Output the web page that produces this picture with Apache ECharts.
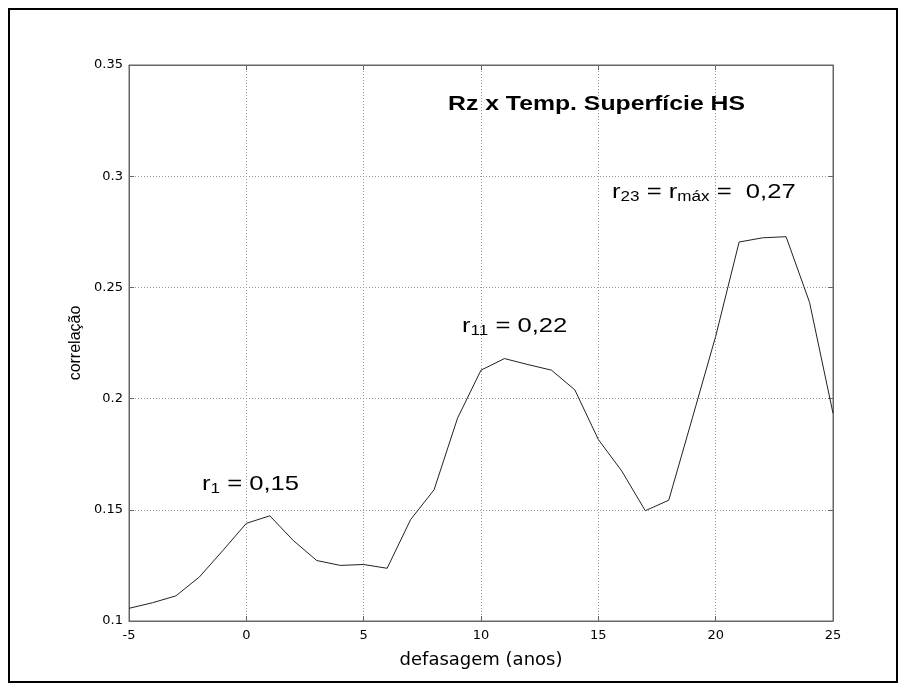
<!DOCTYPE html>
<html>
<head>
<meta charset="utf-8">
<script src="https://cdn.jsdelivr.net/npm/echarts@6/dist/echarts.min.js"></script>
<style>
  html, body { margin: 0; padding: 0; background: #fff; }
  #chart { width: 906px; height: 690px; }
</style>
</head>
<body>
<div id="chart"></div>
<script>
// lag (years) and correlation values
var lags = [-5, -4, -3, -2, -1, 0, 1, 2, 3, 4, 5, 6, 7, 8, 9, 10, 11, 12, 13, 14, 15, 16, 17, 18, 19, 20, 21, 22, 23, 24, 25]
var corr = [0.1057, 0.1082, 0.1113, 0.1198, 0.1317, 0.1439, 0.1473, 0.1362, 0.1272, 0.1250, 0.1254, 0.1237,
  0.1456, 0.1590, 0.1912, 0.2128, 0.2180, 0.2153, 0.2128, 0.2039, 0.1816, 0.1674, 0.1496, 0.1543,
  0.1910, 0.2280, 0.2704, 0.2723, 0.2728, 0.2433, 0.1934]

var font = 'Arial, "Liberation Sans", Helvetica, sans-serif'
var wide = '"DejaVu Sans", Arial, sans-serif'

var points = lags.map(function (x, i) { return [x, corr[i]] })

var rich = {
  n: { fontSize: 21, lineHeight: 24, fontFamily: font, color: '#000' },
  s: { fontSize: 14, lineHeight: 14, padding: [11, 0, 0, 0], fontFamily: font, color: '#000' }
}

// the original figure is stretched sideways, so the texts get scaleX
function note(x, y, text) {
  return {
    type: 'text', x: x, y: y, scaleX: 1.22, silent: true,
    style: { text: text, rich: rich, fill: '#000', align: 'left', verticalAlign: 'top' }
  }
}

var myChart = echarts.init(document.getElementById('chart'))

myChart.setOption({
  backgroundColor: '#fff',
  animation: false,
  grid: { left: 129, right: 73, top: 65, bottom: 69, show: true, borderColor: '#666', borderWidth: 1 },
  xAxis: [
    {
      type: 'value', min: -5, max: 25, interval: 5,
      name: 'defasagem (anos)', nameLocation: 'middle', nameGap: 30,
      nameTextStyle: { fontSize: 18, fontFamily: wide, color: '#000' },
      axisLine: { show: true, onZero: false, lineStyle: { color: '#666' } },
      axisTick: { show: true, inside: true, length: 5, lineStyle: { color: '#666' } },
      axisLabel: { fontSize: 13, fontFamily: wide, color: '#000', margin: 8 },
      splitLine: { show: true, lineStyle: { color: '#999', type: [1, 2], width: 1 } }
    },
    {
      type: 'value', position: 'top', min: -5, max: 25, interval: 5,
      axisLine: { show: true, onZero: false, lineStyle: { color: '#666' } },
      axisTick: { show: true, inside: true, length: 5, lineStyle: { color: '#666' } },
      axisLabel: { show: false }, splitLine: { show: false }
    }
  ],
  yAxis: [
    {
      type: 'value', min: 0.1, max: 0.35, interval: 0.05,
      name: 'correlação', nameLocation: 'middle', nameGap: 36,
      nameTextStyle: { fontSize: 16, fontFamily: font, color: '#000' },
      axisLine: { show: true, onZero: false, lineStyle: { color: '#666' } },
      axisTick: { show: true, inside: true, length: 5, lineStyle: { color: '#666' } },
      axisLabel: { fontSize: 13, fontFamily: wide, color: '#000', margin: 6 },
      splitLine: { show: true, lineStyle: { color: '#999', type: [1, 2], width: 1 } }
    },
    {
      type: 'value', position: 'right', min: 0.1, max: 0.35, interval: 0.05,
      axisLine: { show: true, onZero: false, lineStyle: { color: '#666' } },
      axisTick: { show: true, inside: true, length: 5, lineStyle: { color: '#666' } },
      axisLabel: { show: false }, splitLine: { show: false }
    }
  ],
  series: [
    {
      type: 'line',
      data: points,
      showSymbol: false,
      lineStyle: { color: '#222', width: 1 }
    }
  ],
  graphic: [
    {
      type: 'rect', silent: true,
      shape: { x: 9, y: 9, width: 888, height: 673 },
      style: { fill: 'none', stroke: '#000', lineWidth: 2 }
    },
    {
      type: 'text', x: 448, y: 94, scaleX: 1.18, silent: true,
      style: { text: 'Rz x Temp. Superfície HS', fontSize: 21, fontWeight: 'bold', fontFamily: font, fill: '#000', align: 'left', verticalAlign: 'top' }
    },
    note(202, 472, '{n|r}{s|1}{n| = 0,15}'),
    note(462, 314, '{n|r}{s|11}{n| = 0,22}'),
    note(612, 180, '{n|r}{s|23}{n| = r}{s|máx}{n| =  0,27}')
  ]
})
</script>
</body>
</html>
